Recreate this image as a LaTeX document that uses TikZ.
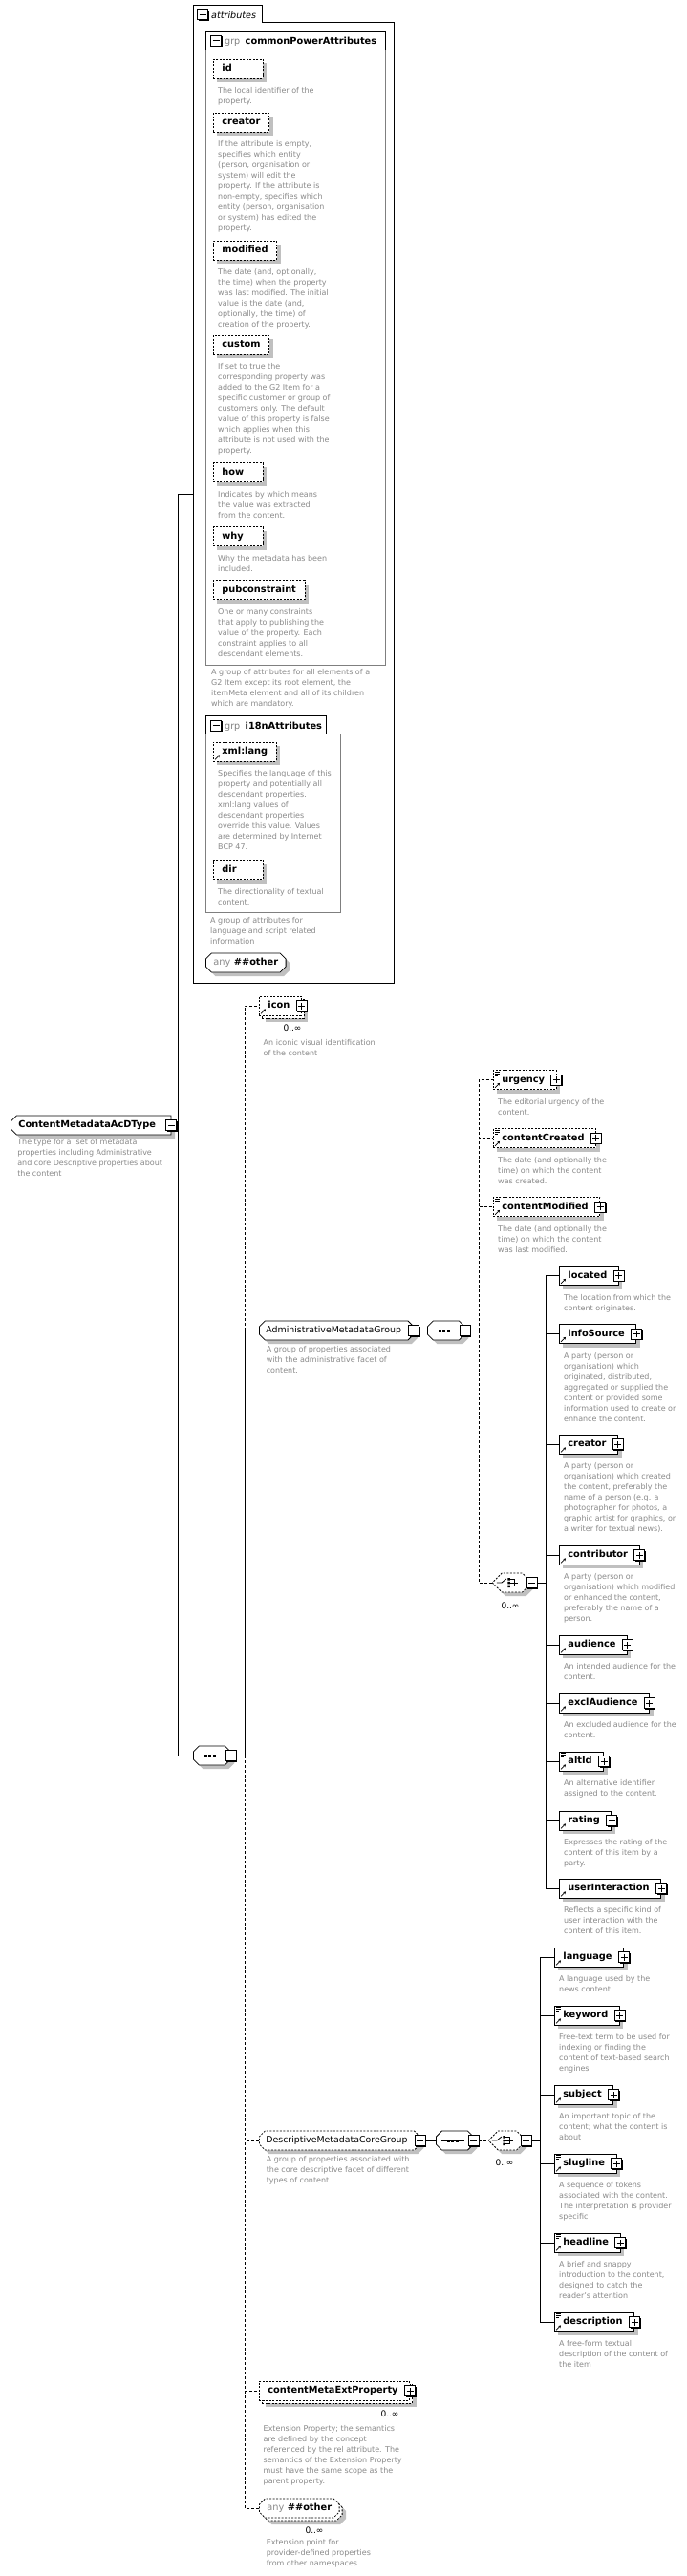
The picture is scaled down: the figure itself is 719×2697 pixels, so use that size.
\documentclass[tikz,border=0pt]{standalone}
\usepackage{fontspec}
\setmainfont{DejaVu Sans}
\usetikzlibrary{positioning,shapes.misc,shadows,arrows.meta,backgrounds}
\definecolor{notegray}{HTML}{8A8A8A}
\definecolor{shade}{HTML}{C0C0C0}
\definecolor{grpgray}{HTML}{7F7F7F}
\tikzset{box/.style={draw,fill=white,anchor=west,minimum height=20pt,inner ysep=0pt,inner xsep=9pt,text height=7.4pt,text depth=2.3pt,line width=.8pt,font=\fontsize{9.8}{11}\selectfont\bfseries},
dotline/.style={dash pattern=on 2pt off 1.5pt},
shad/.style={drop shadow={shadow xshift=4pt,shadow yshift=-4pt,fill=shade,opacity=1}},
multi/.style={drop shadow={shadow xshift=7pt,shadow yshift=-7pt,fill=shade,opacity=1},general shadow={shadow xshift=3pt,shadow yshift=-3pt,draw,fill=white,line width=.8pt,dotline}},
attrib/.style={box,dotline,shad},short/.style={text width=34pt,align=left},
elem/.style={box,shad,execute at end node=\hspace*{3pt}},optel/.style={elem,dotline},
manyel/.style={box,dotline,multi,execute at end node=\hspace*{3pt}},
chamf/.style={box,chamfered rectangle,chamfered rectangle xsep=3pt,chamfered rectangle ysep=3pt},
grp/.style={chamf,shad,inner xsep=4pt,font=\fontsize{9.4}{11}\selectfont,execute at end node=\hspace*{6pt}},
comp/.style={chamf,shad,minimum width=39pt},
note/.style={inner sep=0pt,align=left,text=notegray,font=\fontsize{8}{11}\selectfont},
mult/.style={inner sep=0pt,font=\fontsize{9}{10}\selectfont},
link/.style={line width=1pt},optlink/.style={link,dash pattern=on 3pt off 2pt},
pics/plusb/.style={code={\fill (-4.5pt,-6.5pt) rectangle (6.5pt,4.5pt);
  \draw[fill=white,line width=1pt] (-5.5pt,-5.5pt) rectangle (5.5pt,5.5pt);
  \draw[line width=1pt] (-3.5pt,0pt) -- (3.5pt,0pt) (0pt,-3.5pt) -- (0pt,3.5pt);}},
pics/minusb/.style={code={\fill (-4.5pt,-6.5pt) rectangle (6.5pt,4.5pt);
  \draw[fill=white,line width=1pt] (-5.5pt,-5.5pt) rectangle (5.5pt,5.5pt);
  \draw[line width=1pt] (-3.5pt,0pt) -- (3.5pt,0pt);}},
pics/refarr/.style={code={\draw[line width=.7pt,-{Stealth[length=2.6pt,width=3pt]}] (2pt,2pt) -- (7pt,7pt);}},
pics/txtic/.style={code={\draw[line width=.6pt] (2pt,-2pt) -- (7pt,-2pt) (2pt,-4pt) -- (7pt,-4pt) (2pt,-6pt) -- (5pt,-6pt);}},
pics/seqsym/.style={code={\draw[line width=.8pt] (-12pt,0pt) -- (12pt,0pt);
  \foreach \d in {-6,-1.5,3} \fill (\d pt,-1.5pt) rectangle ++(3pt,3pt);}},
pics/chsym/.style={code={\draw[line width=.8pt] (-13pt,0pt) -- (-8pt,0pt) -- (-3pt,4pt);
  \fill (-1.5pt,2.5pt) rectangle (1pt,5pt) (-1.5pt,-1.25pt) rectangle (1pt,1.25pt) (-1.5pt,-5pt) rectangle (1pt,-2.5pt);
  \draw[line width=.8pt] (1pt,3.75pt) -- (5pt,3.75pt) -- (5pt,-3.75pt) -- (1pt,-3.75pt) (1pt,0pt) -- (9pt,0pt);}}}

\begin{document}
\begin{tikzpicture}[x=1pt,y=-1pt]
\begin{scope}[on background layer]
\fill[white] (0,0) rectangle (719,2697);
\end{scope}
\useasboundingbox (0,0) rectangle (719,2697);

% attributes
\draw[line width=1pt] (202,6) -- (274,6) -- (274,24) -- (412,24) -- (412,1029) -- (202,1029) -- cycle;
\pic at (212,15.5) {minusb};
\node[anchor=west,inner sep=0pt,font=\fontsize{9.6}{11}\selectfont\itshape] (attTab) at (221,15.5) {attributes};

\draw[grpgray] (215,52) -- (215,696) -- (403,696) -- (403,52);
\draw[line width=1pt] (215,52) |- (403,33) -- (403,52);
\pic at (226,43) {minusb};
\node[anchor=base west,inner sep=0pt,text=grpgray,font=\fontsize{9.6}{11}\selectfont] (cpaGrp) at (235,46.5) {grp};
\node[base right=5pt of cpaGrp,inner sep=0pt,font=\fontsize{9.8}{11}\selectfont\bfseries] (cpaName) {commonPowerAttributes};

\node[attrib,short] (aId) at (223,72) {id};
\node[note,below right=9pt and 5pt of aId.south west] (aIdN) {The local identifier of the\\property.};
\node[attrib] (aCreator) at (223,128) {creator};
\node[note,below right=9pt and 5pt of aCreator.south west] (aCreatorN) {If the attribute is empty,\\specifies which entity\\(person, organisation or\\system) will edit the\\property. If the attribute is\\non-empty, specifies which\\entity (person, organisation\\or system) has edited the\\property.};
\node[attrib] (aModified) at (223,262) {modified};
\node[note,below right=9pt and 5pt of aModified.south west] (aModifiedN) {The date (and, optionally,\\the time) when the property\\was last modified. The initial\\value is the date (and,\\optionally, the time) of\\creation of the property.};
\node[attrib] (aCustom) at (223,361) {custom};
\node[note,below right=9pt and 5pt of aCustom.south west] (aCustomN) {If set to true the\\corresponding property was\\added to the G2 Item for a\\specific customer or group of\\customers only. The default\\value of this property is false\\which applies when this\\attribute is not used with the\\property.};
\node[attrib,short] (aHow) at (223,494.5) {how};
\node[note,below right=9pt and 5pt of aHow.south west] (aHowN) {Indicates by which means\\the value was extracted\\from the content.};
\node[attrib,short] (aWhy) at (223,561.5) {why};
\node[note,below right=9pt and 5pt of aWhy.south west] (aWhyN) {Why the metadata has been\\included.};
\node[attrib] (aPub) at (223,617.5) {pubconstraint};
\node[note,below right=9pt and 5pt of aPub.south west] (aPubN) {One or many constraints\\that apply to publishing the\\value of the property. Each\\constraint applies to all\\descendant elements.};
\node[note,anchor=north west] (cpaNote) at (221,700) {A group of attributes for all elements of a\\G2 Item except its root element, the\\itemMeta element and all of its children\\which are mandatory.};

\draw[grpgray] (341,768) -- (356,768) -- (356,955) -- (215,955) -- (215,768);
\draw[line width=1pt] (215,768) |- (341,749) -- (341,768);
\pic at (226,759.5) {minusb};
\node[anchor=base west,inner sep=0pt,text=grpgray,font=\fontsize{9.6}{11}\selectfont] (i18nGrp) at (235,763) {grp};
\node[base right=5pt of i18nGrp,inner sep=0pt,font=\fontsize{9.8}{11}\selectfont\bfseries] (i18nName) {i18nAttributes};
\node[attrib] (aLang) at (223,787) {xml:lang};
\pic at (aLang.south west) {refarr};
\node[note,below right=9pt and 5pt of aLang.south west] (aLangN) {Specifies the language of this\\property and potentially all\\descendant properties.\\xml:lang values of\\descendant properties\\override this value. Values\\are determined by Internet\\BCP 47.};
\node[attrib,short] (aDir) at (223,910.5) {dir};
\node[note,below right=9pt and 5pt of aDir.south west] (aDirN) {The directionality of textual\\content.};
\node[note,anchor=north west] (i18nNote) at (220,960) {A group of attributes for\\language and script related\\information};
\node[chamf,shad,inner xsep=5pt] (aAny) at (215,1008) {\textcolor{notegray}{\mdseries any}\ \#\#other};

% root and main sequence
\node[chamf,shad,chamfered rectangle corners={north west,south west},inner xsep=5pt,execute at end node=\hspace*{8pt}] (root) at (11,1178) {ContentMetadataAcDType};
\node[note,below right=7pt and 4pt of root.south west] (rootN) {The type for a\ \ set of metadata\\properties including Administrative\\and core Descriptive properties about\\the content};
\node[comp] (seqMain) at (202,1838) {};
\pic at ([xshift=-2pt]seqMain.center) {seqsym};

\node[manyel] (eIcon) at (271,1053) {icon};
\node[mult] (eIconM) at (306,1076) {0..∞};
\node[note,below right=25pt and 4.5pt of eIcon.south west] (eIconN) {An iconic visual identification\\of the content};

\node[grp] (gAdm) at (271,1393) {AdministrativeMetadataGroup};
\node[note,below right=9pt and 4.5pt of gAdm.south west] (gAdmN) {A group of properties associated\\with the administrative facet of\\content.};
\node[comp] (seqAdm) at (447,1393) {};
\pic at ([xshift=-2pt]seqAdm.center) {seqsym};

\node[optel] (eUrg) at (516,1130.5) {urgency};
\node[note,below right=9pt and 5pt of eUrg.south west] (eUrgN) {The editorial urgency of the\\content.};
\node[optel] (eCrt) at (516,1191.5) {contentCreated};
\node[note,below right=9pt and 5pt of eCrt.south west] (eCrtN) {The date (and optionally the\\time) on which the content\\was created.};
\node[optel] (eMod) at (516,1263.5) {contentModified};
\node[note,below right=9pt and 5pt of eMod.south west] (eModN) {The date (and optionally the\\time) on which the content\\was last modified.};
\node[comp,dotline,minimum width=41pt,chamfered rectangle xsep=5pt,chamfered rectangle ysep=5pt] (choAdm) at (515,1657) {};
\pic at ([xshift=-3pt]choAdm.center) {chsym};
\node[mult] (choAdmM) at (534,1681) {0..∞};

\node[elem] (cLoc) at (585,1335.5) {located};
\node[note,below right=9pt and 5pt of cLoc.south west] (cLocN) {The location from which the\\content originates.};
\node[elem] (cInfo) at (585,1396.5) {infoSource};
\node[note,below right=9pt and 5pt of cInfo.south west] (cInfoN) {A party (person or\\organisation) which\\originated, distributed,\\aggregated or supplied the\\content or provided some\\information used to create or\\enhance the content.};
\node[elem] (cCrt) at (585,1512) {creator};
\node[note,below right=9pt and 5pt of cCrt.south west] (cCrtN) {A party (person or\\organisation) which created\\the content, preferably the\\name of a person (e.g. a\\photographer for photos, a\\graphic artist for graphics, or\\a writer for textual news).};
\node[elem] (cCon) at (585,1628) {contributor};
\node[note,below right=9pt and 5pt of cCon.south west] (cConN) {A party (person or\\organisation) which modified\\or enhanced the content,\\preferably the name of a\\person.};
\node[elem] (cAud) at (585,1722) {audience};
\node[note,below right=9pt and 5pt of cAud.south west] (cAudN) {An intended audience for the\\content.};
\node[elem] (cExc) at (585,1783) {exclAudience};
\node[note,below right=9pt and 5pt of cExc.south west] (cExcN) {An excluded audience for the\\content.};
\node[elem] (cAlt) at (585,1844) {altId};
\node[note,below right=9pt and 5pt of cAlt.south west] (cAltN) {An alternative identifier\\assigned to the content.};
\node[elem] (cRat) at (585,1906) {rating};
\node[note,below right=9pt and 5pt of cRat.south west] (cRatN) {Expresses the rating of the\\content of this item by a\\party.};
\node[elem] (cUsr) at (585,1977) {userInteraction};
\node[note,below right=9pt and 5pt of cUsr.south west] (cUsrN) {Reflects a specific kind of\\user interaction with the\\content of this item.};

\node[grp,dotline] (gDesc) at (271,2241) {DescriptiveMetadataCoreGroup};
\node[note,below right=8.5pt and 4.5pt of gDesc.south west] (gDescN) {A group of properties associated with\\the core descriptive facet of different\\types of content.};
\node[comp] (seqDesc) at (456,2241) {};
\pic at ([xshift=-2pt]seqDesc.center) {seqsym};
\node[comp,dotline,chamfered rectangle xsep=5pt,chamfered rectangle ysep=5pt] (choDesc) at (511,2241) {};
\pic at ([xshift=-3pt]choDesc.center) {chsym};
\node[mult] (choDescM) at (528,2264) {0..∞};

\node[elem] (dLang) at (580,2049) {language};
\node[note,below right=9pt and 5pt of dLang.south west] (dLangN) {A language used by the\\news content};
\node[elem] (dKey) at (580,2110) {keyword};
\node[note,below right=9pt and 5pt of dKey.south west] (dKeyN) {Free-text term to be used for\\indexing or finding the\\content of text-based search\\engines};
\node[elem] (dSub) at (580,2193) {subject};
\node[note,below right=9pt and 5pt of dSub.south west] (dSubN) {An important topic of the\\content; what the content is\\about};
\node[elem] (dSlug) at (580,2265) {slugline};
\node[note,below right=9pt and 5pt of dSlug.south west] (dSlugN) {A sequence of tokens\\associated with the content.\\The interpretation is provider\\specific};
\node[elem] (dHead) at (580,2348) {headline};
\node[note,below right=9pt and 5pt of dHead.south west] (dHeadN) {A brief and snappy\\introduction to the content,\\designed to catch the\\reader's attention};
\node[elem] (dDesc) at (580,2431) {description};
\node[note,below right=9pt and 5pt of dDesc.south west] (dDescN) {A free-form textual\\description of the content of\\the item};

\node[manyel] (eExt) at (271,2503) {contentMetaExtProperty};
\node[mult] (eExtM) at (408,2527) {0..∞};
\node[note,below right=26pt and 4.5pt of eExt.south west] (eExtN) {Extension Property; the semantics\\are defined by the concept\\referenced by the rel attribute. The\\semantics of the Extension Property\\must have the same scope as the\\parent property.};
\node[chamf,dotline,multi,inner xsep=5pt] (eAny) at (271,2626) {\textcolor{notegray}{\mdseries any}\ \#\#other};
\node[mult] (eAnyM) at (329,2649) {0..∞};
\node[note,below right=25pt and 4.5pt of eAny.south west] (eAnyN) {Extension point for\\provider-defined properties\\from other namespaces};

% icons on the boxes
\foreach \n in {root,gAdm,gDesc,seqMain,seqAdm,seqDesc,choAdm,choDesc}\pic at (\n.east) {minusb};
\foreach \n in {eIcon,eUrg,eCrt,eMod,cLoc,cInfo,cCrt,cCon,cAud,cExc,cAlt,cRat,cUsr,dLang,dKey,dSub,dSlug,dHead,dDesc,eExt}\pic at (\n.east) {plusb};
\foreach \n in {eIcon,eUrg,eCrt,eMod,cLoc,cInfo,cCrt,cCon,cAud,cExc,cAlt,cRat,cUsr,dLang,dKey,dSub,dSlug,dHead,dDesc}\pic at (\n.south west) {refarr};
\foreach \n in {eUrg,eCrt,eMod,cAlt,dKey,dSlug,dHead,dDesc}\pic at (\n.north west) {txtic};

% connectors
\begin{scope}[on background layer]
\coordinate (jAttr) at (186,517);
\coordinate (aIn) at (202,517);
\draw[link] (aIn) -- (jAttr) |- (seqMain.west);
\draw[link] (root.east) -- (root.east -| jAttr);
\coordinate (jSeq) at (256,1838);
\draw[link] (seqMain.east) -- (jSeq);
\foreach \n in {eIcon,gDesc,eExt,eAny}\draw[optlink] (jSeq) |- (\n.west);
\draw[link] (jSeq) |- (gAdm.west);
\draw[link] (gAdm.east) -- (seqAdm.west);
\coordinate (jAdm) at (501,1393);
\draw[optlink] (seqAdm.east) -- (jAdm);
\foreach \n in {eUrg,eCrt,eMod,choAdm}\draw[optlink] (jAdm) |- (\n.west);
\coordinate (jCho) at (571,1657);
\draw[link] (choAdm.east) -- (jCho);
\foreach \n in {cLoc,cInfo,cCrt,cCon,cAud,cExc,cAlt,cRat,cUsr}\draw[link] (jCho) |- (\n.west);
\draw[link] (gDesc.east) -- (seqDesc.west);
\draw[optlink] (seqDesc.east) -- (choDesc.west);
\coordinate (jDesc) at (565,2241);
\draw[link] (choDesc.east) -- (jDesc);
\foreach \n in {dLang,dKey,dSub,dSlug,dHead,dDesc}\draw[link] (jDesc) |- (\n.west);
\end{scope}
\end{tikzpicture}
\end{document}
